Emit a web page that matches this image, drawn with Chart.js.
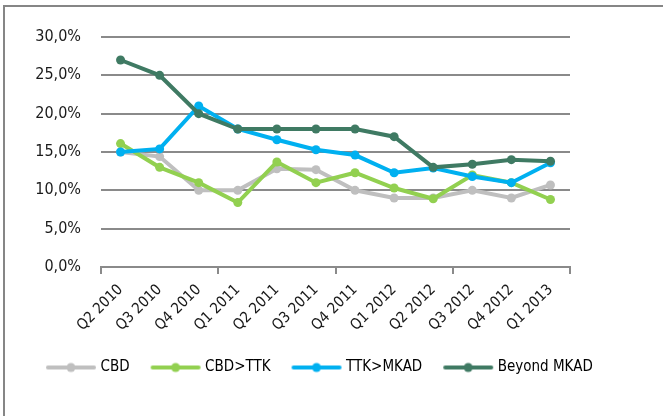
<!DOCTYPE html>
<html>
<head>
<meta charset="utf-8">
<script src="https://cdn.jsdelivr.net/npm/chart.js@4"></script>
<style>
  html, body { margin: 0; padding: 0; background: #fff; }
  #wrap { position: relative; width: 663px; height: 416px; }
  #frame { position: absolute; left: 3px; top: 5px; right: 0; bottom: 0;
           border-top: 2px solid #868686; border-left: 2px solid #868686; }
  #rentChart { position: absolute; left: 0; top: 0; }
</style>
</head>
<body>
<div id="wrap">
  <div id="frame"></div>
  <canvas id="rentChart" width="663" height="416"></canvas>
</div>
<script>
// Quarters on the x axis
const quarters = ['Q2 2010', 'Q3 2010', 'Q4 2010', 'Q1 2011', 'Q2 2011', 'Q3 2011',
                  'Q4 2011', 'Q1 2012', 'Q2 2012', 'Q3 2012', 'Q4 2012', 'Q1 2013'];

// Values in percent
const cbd        = [15, 14.4, 10, 10, 12.8, 12.7, 10, 9, 9, 10, 9, 10.7];
const cbdTtk     = [16.1, 13, 11, 8.4, 13.7, 11, 12.3, 10.3, 8.9, 12, 11, 8.8];
const ttkMkad    = [15, 15.4, 21, 18, 16.6, 15.3, 14.6, 12.3, 12.9, 11.8, 11, 13.6];
const beyondMkad = [27, 25, 20, 18, 18, 18, 18, 17, 13, 13.4, 14, 13.8];

const seriesNames = ['CBD', 'CBD>TTK', 'TTK>MKAD', 'Beyond MKAD'];
const yTicks = [0, 5, 10, 15, 20, 25, 30];

const colors = ['#bfbfbf', '#92d050', '#00b0f0', '#3f7a63'];
const FONT = "'DejaVu Sans Condensed', 'Liberation Sans', sans-serif";
const GRID = '#8a8a8a';

// little line-with-dot marker for the legend
function legendMarker(color) {
  const c = document.createElement('canvas');
  c.width = 52; c.height = 12;
  const g = c.getContext('2d');
  g.strokeStyle = color;
  g.lineWidth = 4;
  g.lineCap = 'round';
  g.beginPath(); g.moveTo(3, 6); g.lineTo(49, 6); g.stroke();
  g.fillStyle = color;
  g.beginPath(); g.arc(26, 6, 4.5, 0, Math.PI * 2); g.fill();
  return c;
}

const allData = [cbd, cbdTtk, ttkMkad, beyondMkad];
const datasets = allData.map((d, i) => ({
  label: seriesNames[i],
  data: d,
  borderColor: colors[i],
  backgroundColor: colors[i],
  borderWidth: 4,
  pointRadius: 4.5,
  pointHoverRadius: 4.5,
  pointBorderWidth: 0,
  pointStyle: 'circle',
  legendMarker: legendMarker(colors[i]),
  tension: 0,
  fill: false,
  order: 3 - i
}));

const ctx = document.getElementById('rentChart').getContext('2d');
const rentChart = new Chart(ctx, {
  type: 'line',
  data: { labels: quarters, datasets: datasets },
  options: {
    responsive: false,
    animation: false,
    layout: { padding: { left: 25, right: 0, top: 37, bottom: 31 } },
    plugins: {
      tooltip: { enabled: false },
      legend: {
        position: 'bottom',
        align: 'start',
        labels: {
          usePointStyle: true,
          pointStyleWidth: 44,
          padding: 24,
          color: '#1a1a1a',
          font: { family: FONT, size: 15 },
          generateLabels: chart => chart.data.datasets.map((ds, i) => ({
            text: ds.label,
            datasetIndex: i,
            pointStyle: ds.legendMarker,
            fillStyle: ds.borderColor,
            strokeStyle: ds.borderColor,
            lineWidth: 0,
            hidden: false
          }))
        }
      }
    },
    scales: {
      y: {
        min: 0,
        max: 30,
        afterBuildTicks: s => { s.ticks = yTicks.map(v => ({ value: v })); },
        afterFit: s => { s.width = 76; },
        ticks: {
          padding: 20,
          color: '#1a1a1a',
          font: { family: FONT, size: 16 },
          callback: v => v.toFixed(1).replace('.', ',') + '%'
        },
        grid: { color: GRID, lineWidth: 2, drawTicks: false },
        border: { display: false }
      },
      // empty axis on the right, only keeps the plot narrower than the legend row
      spacer: {
        position: 'right',
        afterFit: s => { s.width = 93; },
        ticks: { display: false },
        grid: { display: false },
        border: { display: false }
      },
      x: {
        offset: true,
        afterFit: s => { s.height = 69; },
        ticks: {
          autoSkip: false,
          maxRotation: 45,
          minRotation: 45,
          padding: 7,
          color: '#1a1a1a',
          font: { family: FONT, size: 15 }
        },
        grid: {
          offset: true,
          drawOnChartArea: false,
          tickLength: 7,
          lineWidth: 2,
          color: c => (c.index === undefined || c.index % 3 === 0) ? GRID : 'rgba(0,0,0,0)'
        },
        border: { display: true, color: GRID, width: 2 }
      }
    }
  }
});
</script>
</body>
</html>
